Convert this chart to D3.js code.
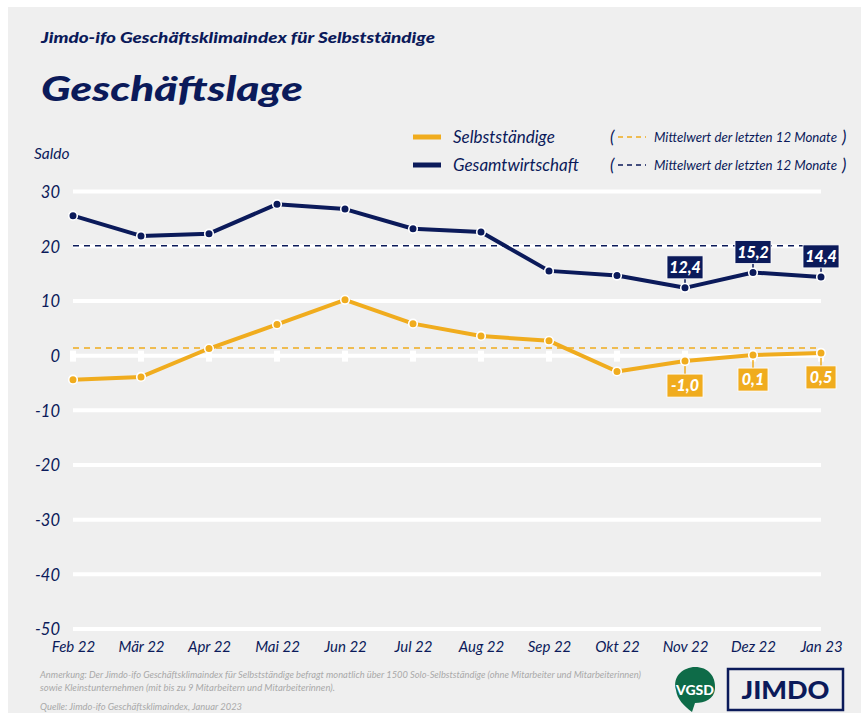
<!DOCTYPE html>
<html><head><meta charset="utf-8">
<script src="https://cdn.jsdelivr.net/npm/d3@7"></script>
<style>
html,body{margin:0;padding:0;background:#fff;}
svg{display:block;}
text{font-family:Lato,"Open Sans",sans-serif;}
</style></head>
<body>
<script>
const months = ["Feb 22","Mär 22","Apr 22","Mai 22","Jun 22","Jul 22","Aug 22","Sep 22","Okt 22","Nov 22","Dez 22","Jan 23"];
const selbst = [-4.4,-3.9,1.3,5.7,10.2,5.85,3.6,2.7,-2.9,-1.0,0.1,0.5];
const gesamt = [25.6,21.9,22.3,27.7,26.8,23.2,22.6,15.5,14.65,12.4,15.2,14.4];
const selbstMean = 1.4;
const gesamtMean = 20.1;
const yTicks = [30,20,10,0,-10,-20,-30,-40,-50];
const labelled = ["Nov 22","Dez 22","Jan 23"];

const W=861,H=713;
const NAVY="#0b1a5a", ORANGE="#f0ac1e", BG="#efefef";
const svg=d3.select("body").append("svg").attr("width",W).attr("height",H);
svg.append("rect").attr("x",8).attr("y",7).attr("width",W-8).attr("height",H-7).attr("fill",BG);

const x=d3.scalePoint().domain(months).range([73,821]);
const y=d3.scaleLinear().domain([-50,30]).range([629,191.6]);

// titles
svg.append("text").attr("x",41).attr("y",43).attr("fill",NAVY)
  .style("font-weight",900).style("font-style","italic").style("font-size","15.5px")
  .attr("textLength",394).attr("lengthAdjust","spacingAndGlyphs")
  .text("Jimdo-ifo Geschäftsklimaindex für Selbstständige");
svg.append("text").attr("x",41).attr("y",101).attr("fill",NAVY)
  .style("font-weight",900).style("font-style","italic").style("font-size","35px")
  .attr("textLength",262).attr("lengthAdjust","spacingAndGlyphs")
  .text("Geschäftslage");
svg.append("text").attr("x",34).attr("y",159).attr("fill",NAVY)
  .style("font-style","italic").style("font-size","15.5px").text("Saldo");

// gridlines
const g=svg.append("g");
g.selectAll("line.grid").data(yTicks).join("line").attr("class","grid")
  .attr("x1",73).attr("x2",821).attr("y1",d=>y(d)).attr("y2",d=>y(d))
  .attr("stroke","#fff").attr("stroke-width",4);
// zero-line tick marks
g.selectAll("rect.tk").data(months).join("rect").attr("class","tk")
  .attr("x",d=>x(d)-3).attr("y",y(0)-5).attr("width",6).attr("height",11).attr("fill","#fff");

// y axis labels
const yAxis=d3.axisLeft(y).tickValues(yTicks).tickFormat(d=>String(d)).tickSize(0).tickPadding(0);
const ya=svg.append("g").attr("transform","translate(60,0)").call(yAxis);
ya.select(".domain").remove();
ya.selectAll("text").attr("fill",NAVY).style("font-style","italic").style("font-size","16.5px")
  .style("font-family","Lato,sans-serif").attr("dy","0.35em");

// x axis labels
const xAxis=d3.axisBottom(x).tickSize(0).tickPadding(0);
const xa=svg.append("g").attr("transform","translate(0,641)").call(xAxis);
xa.select(".domain").remove();
xa.selectAll("text").attr("fill",NAVY).style("font-style","italic").style("font-size","15px")
  .style("font-family","Lato,sans-serif").attr("dy","0.71em");

// mean lines
g.append("line").attr("x1",73).attr("x2",821).attr("y1",y(gesamtMean)).attr("y2",y(gesamtMean))
  .attr("stroke",NAVY).attr("stroke-width",1.6).attr("stroke-dasharray","6,5");
g.append("line").attr("x1",73).attr("x2",821).attr("y1",y(selbstMean)).attr("y2",y(selbstMean))
  .attr("stroke",ORANGE).attr("stroke-width",1.6).attr("stroke-dasharray","6,5");

const line=d3.line().x((d,i)=>x(months[i])).y(d=>y(d));
function series(vals,col,above){
  svg.append("path").datum(vals).attr("d",line).attr("fill","none").attr("stroke",col)
    .attr("stroke-width",4).attr("stroke-linejoin","round");
  const lab=svg.append("g");
  vals.forEach((v,i)=>{
    const m=months[i]; if(!labelled.includes(m)) return;
    const cx=x(m), cy=y(v);
    const txt=v.toFixed(1).replace(".",",");
    const bw = txt.length>3?36:30, bh=23;
    const by = above? cy-9-bh : cy+13;
    lab.append("line").attr("x1",cx).attr("x2",cx).attr("y1",cy).attr("y2",above?by+bh:by)
      .attr("stroke",col).attr("stroke-width",1.5);
    lab.append("rect").attr("x",cx-bw/2).attr("y",by).attr("width",bw).attr("height",bh)
      .attr("fill",col).attr("stroke","#fff").attr("stroke-width",0.8);
    lab.append("text").attr("x",cx).attr("y",by+bh/2).attr("dy","0.36em").attr("text-anchor","middle")
      .attr("fill","#fff").style("font-weight",900).style("font-style","italic").style("font-size","16px")
      .text(txt);
  });
  svg.append("g").selectAll("circle").data(vals).join("circle")
    .attr("cx",(d,i)=>x(months[i])).attr("cy",d=>y(d)).attr("r",4.3)
    .attr("fill",col).attr("stroke","#fff").attr("stroke-width",1.6);
}
series(gesamt,NAVY,true);
series(selbst,ORANGE,false);

// legend
const lg=svg.append("g");
const legItems=[{n:"Selbstständige",c:ORANGE,y:137},{n:"Gesamtwirtschaft",c:NAVY,y:165}];
legItems.forEach(it=>{
  lg.append("line").attr("x1",413).attr("x2",441).attr("y1",it.y).attr("y2",it.y).attr("stroke",it.c).attr("stroke-width",5);
  lg.append("text").attr("x",453).attr("y",it.y+6).attr("fill",NAVY).style("font-style","italic").style("font-size","17px").text(it.n);
  lg.append("text").attr("x",610).attr("y",it.y+6).attr("fill",NAVY).style("font-style","italic").style("font-size","17px").text("(");
  lg.append("line").attr("x1",618).attr("x2",646).attr("y1",it.y).attr("y2",it.y).attr("stroke",it.c).attr("stroke-width",1.6).attr("stroke-dasharray","5,4");
  lg.append("text").attr("x",654).attr("y",it.y+4.5).attr("fill",NAVY).style("font-style","italic").style("font-size","12.5px")
    .attr("textLength",183).attr("lengthAdjust","spacingAndGlyphs").text("Mittelwert der letzten 12 Monate");
  lg.append("text").attr("x",842).attr("y",it.y+6).attr("fill",NAVY).style("font-style","italic").style("font-size","17px").text(")");
});

// footnote
const fn=svg.append("g").attr("fill","#a9a9a9").style("font-style","italic").style("font-size","8.6px");
fn.append("text").attr("x",40).attr("y",678).attr("textLength",601).attr("lengthAdjust","spacingAndGlyphs")
  .text("Anmerkung: Der Jimdo-ifo Geschäftsklimaindex für Selbstständige befragt monatlich über 1500 Solo-Selbstständige (ohne Mitarbeiter und Mitarbeiterinnen)");
fn.append("text").attr("x",40).attr("y",691).attr("textLength",295).attr("lengthAdjust","spacingAndGlyphs")
  .text("sowie Kleinstunternehmen (mit bis zu 9 Mitarbeitern und Mitarbeiterinnen).");
fn.append("text").attr("x",40).attr("y",710).attr("textLength",202).attr("lengthAdjust","spacingAndGlyphs")
  .text("Quelle: Jimdo-ifo Geschäftsklimaindex, Januar 2023");

// logos
const lo=svg.append("g");
lo.append("path").attr("d","M676,690 C672,676 684,667 695,667 C708,667 716,676 715,689 C714,699 705,703 695,703 L692,712 C684,706 677,699 676,690 Z").attr("fill","#0e6b48");
lo.append("text").attr("x",695).attr("y",695).attr("text-anchor","middle").attr("fill","#fff")
  .style("font-weight",900).style("font-size","14px").attr("textLength",38).attr("lengthAdjust","spacingAndGlyphs").text("VGSD");
lo.append("rect").attr("x",728).attr("y",669).attr("width",115).attr("height",41).attr("fill","none").attr("stroke",NAVY).attr("stroke-width",2.5);
lo.append("text").attr("x",785.5).attr("y",699).attr("text-anchor","middle").attr("fill",NAVY)
  .style("font-weight",900).style("font-size","25px").attr("textLength",88).attr("lengthAdjust","spacingAndGlyphs").text("JIMDO");
</script>
</body></html>
